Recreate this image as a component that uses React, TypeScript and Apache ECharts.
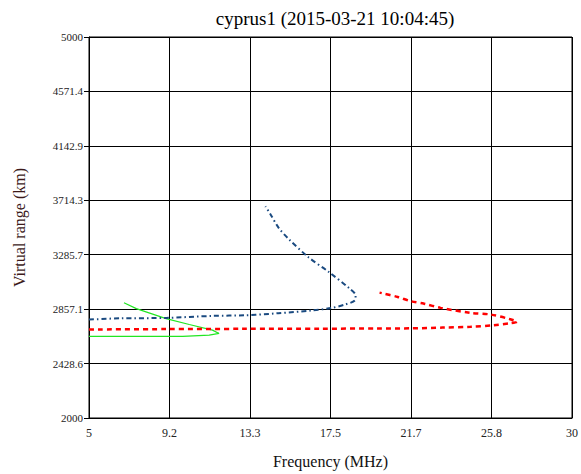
import React, { useEffect, useRef } from "react";
import * as echarts from "echarts";

const TITLE = "cyprus1 (2015-03-21 10:04:45)";
const X_MIN = 5;
const X_MAX = 30;
const Y_MIN = 2000;
const Y_MAX = 5000;
const X_STEPS = 6;
const Y_STEPS = 7;

// Blue dash-dot trace [frequency MHz, virtual range km]
const blueTrace: [number, number][] = [
  [5.0, 2775], [6.6, 2785], [9.0, 2788], [11.4, 2804], [13.1, 2809],
  [14.8, 2825], [16.5, 2846], [17.56, 2867], [18.24, 2893], [18.76, 2926],
  [18.8, 2966], [18.5, 3018], [17.38, 3153], [16.36, 3266], [15.33, 3410],
  [14.8, 3501], [14.39, 3605], [14.13, 3666],
];

// Red dashed trace
const redTrace: [number, number][] = [
  [5.0, 2697], [9.0, 2700], [13.0, 2702], [17.0, 2703], [19.95, 2705],
  [21.67, 2706], [23.3, 2712], [24.75, 2718], [25.95, 2731], [26.8, 2746],
  [27.15, 2757], [26.8, 2778], [25.78, 2815], [24.75, 2828], [23.2, 2867],
  [22.35, 2900], [21.67, 2919], [20.98, 2953], [20.04, 2987],
];

// Green solid trace
const greenTrace: [number, number][] = [
  [6.81, 2908], [7.45, 2861], [8.99, 2783], [10.19, 2736], [11.39, 2692],
  [11.73, 2666], [11.22, 2653], [9.85, 2642], [9.2, 2642], [5.0, 2642],
];

const fmt = (v: number) => {
  const r = Math.round(v * 10) / 10;
  return Number.isInteger(r) ? String(r) : r.toFixed(1);
};

const FONT = "Liberation Serif";

export default function App() {
  const ref = useRef<HTMLDivElement>(null);
  useEffect(() => {
    if (!ref.current) return;
    const chart = echarts.init(ref.current, undefined, { renderer: "svg" });
    chart.setOption({
      animation: false,
      backgroundColor: "#ffffff",
      title: {
        text: TITLE,
        left: 330,
        textAlign: "center",
        top: 4,
        textStyle: { fontFamily: FONT, fontSize: 19, fontWeight: "normal", color: "#000" },
      },
      grid: {
        left: 89,
        right: 6.5,
        top: 37,
        bottom: 54,
        show: true,
        borderColor: "#000",
        borderWidth: 1,
        backgroundColor: "transparent",
      },
      xAxis: [
        {
          type: "value",
          min: X_MIN,
          max: X_MAX,
          show: false,
        },
        {
          type: "value",
          position: "bottom",
          min: 0,
          max: X_STEPS,
          interval: 1,
          axisLine: { show: true, lineStyle: { color: "#000", width: 1 } },
          axisTick: { show: false },
          splitLine: { show: true, lineStyle: { color: "#000", width: 1 } },
          axisLabel: {
            margin: 9,
            fontFamily: FONT,
            fontSize: 12,
            color: "#222",
            formatter: (v: number) => fmt(X_MIN + (v * (X_MAX - X_MIN)) / X_STEPS),
          },
          name: "Frequency (MHz)",
          nameLocation: "middle",
          nameGap: 35,
          nameTextStyle: { fontFamily: FONT, fontSize: 16, color: "#111" },
        },
      ],
      yAxis: [
        {
          type: "value",
          min: Y_MIN,
          max: Y_MAX,
          show: false,
        },
        {
          type: "value",
          position: "left",
          min: 0,
          max: Y_STEPS,
          interval: 1,
          axisLine: { show: true, lineStyle: { color: "#000", width: 1 } },
          axisTick: { show: true, inside: false, length: 5, lineStyle: { color: "#000" } },
          splitLine: { show: true, lineStyle: { color: "#000", width: 1 } },
          axisLabel: {
            margin: 6,
            fontFamily: FONT,
            fontSize: 11,
            color: "#222",
            formatter: (v: number) => fmt(Y_MIN + (v * (Y_MAX - Y_MIN)) / Y_STEPS),
          },
          name: "Virtual range (km)",
          nameLocation: "middle",
          nameGap: 62,
          nameTextStyle: { fontFamily: FONT, fontSize: 16, color: "#3c1a1a" },
        },
      ],
      series: [
        {
          type: "line",
          xAxisIndex: 0,
          yAxisIndex: 0,
          data: greenTrace,
          showSymbol: false,
          smooth: false,
          lineStyle: { color: "#22e622", width: 1.2, type: "solid" },
        },
        {
          type: "line",
          xAxisIndex: 0,
          yAxisIndex: 0,
          data: redTrace,
          showSymbol: false,
          smooth: 0.3,
          lineStyle: { color: "#ff0000", width: 2.5, type: [5, 4] },
        },
        {
          type: "line",
          xAxisIndex: 0,
          yAxisIndex: 0,
          data: blueTrace,
          showSymbol: false,
          smooth: 0.3,
          lineStyle: { color: "#1a4a80", width: 2, type: [5, 3, 1.5, 3] },
        },
      ],
    });
    return () => chart.dispose();
  }, []);
  return (
    <div
      ref={ref}
      style={{ position: "fixed", left: 0, top: 0, width: 581, height: 474 }}
    />
  );
}
